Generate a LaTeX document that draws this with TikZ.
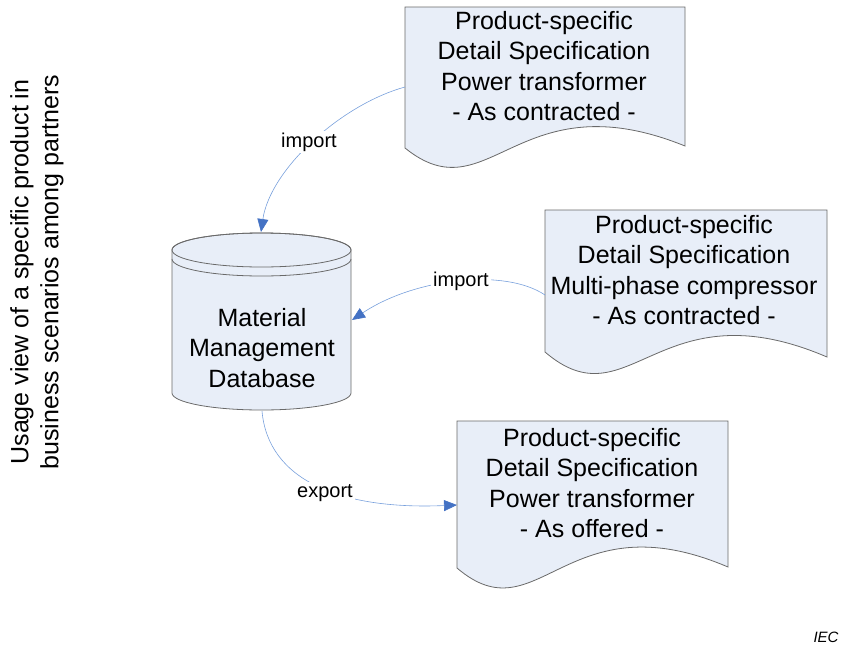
\documentclass[tikz,border=0pt]{standalone}
\usepackage{fontspec}
\setmainfont{Liberation Sans}
\usetikzlibrary{arrows.meta}
\definecolor{docfill}{RGB}{232,238,248}
\definecolor{edgegray}{RGB}{105,105,105}
\definecolor{linkblue}{RGB}{120,160,220}
\definecolor{tipblue}{RGB}{68,114,196}
\newcommand{\docpath}[6]{% L T R yl yr d
  \pgfmathsetmacro{\dw}{#3-#1}
  \pgfmathsetmacro{\ya}{-(#5+#4)/2+#6}
  \pgfmathsetmacro{\yb}{-(#5+#4)/2-#6}
  \pgfmathsetmacro{\xa}{#1+0.4*\dw}
  \pgfmathsetmacro{\xb}{#1+0.3*\dw}
  \filldraw[docshape] (#1,-#2) -- (#3,-#2) -- (#3,-#5)
    .. controls (\xa,\ya) and (\xb,\yb) .. (#1,-#4) -- cycle;
}
\begin{document}
\begin{tikzpicture}[x=1pt,y=1pt,
  docshape/.style={fill=docfill,draw=edgegray,line width=0.8pt},
  cylshape/.style={fill=docfill,draw=edgegray,line width=0.8pt},
  doctext/.style={align=center,font=\fontsize{25}{30.5}\selectfont,inner sep=0pt},
  linklabel/.style={fill=white,inner sep=2pt,font=\fontsize{20}{24}\selectfont},
  link/.style={draw=linkblue,line width=0.6pt,-{Triangle[length=13pt,width=11pt,color=tipblue]}}
]
\useasboundingbox (0,0) rectangle (841,-646);

% documents
\docpath{405}{7}{685}{148}{146}{69}
\docpath{545}{210}{827}{352}{357}{70}
\docpath{457}{421}{728}{568}{567}{70}

\node[doctext] (doc1) at (544,-66) {Product-specific\\Detail Specification\\Power transformer\\- As contracted -};
\node[doctext] (doc2) at (684,-270) {Product-specific\\Detail Specification\\Multi-phase compressor\\- As contracted -};
\node[doctext] (doc3) at (592,-483) {Product-specific\\Detail Specification\\Power transformer\\- As offered -};

% database cylinder
\filldraw[cylshape] (172,-250) -- (172,-393)
  arc[start angle=180,end angle=360,x radius=89.5,y radius=17]
  -- (351,-250)
  arc[start angle=0,end angle=180,x radius=89.5,y radius=17] -- cycle;
\draw[edgegray,line width=0.8pt] (261.5,-250) ellipse[x radius=89.5,y radius=17];
\draw[edgegray,line width=0.8pt] (172,-259) arc[start angle=180,end angle=360,x radius=89.5,y radius=17];
\node[doctext] (db) at (262,-348) {Material\\Management\\Database};

% connector end points
\coordinate (d1out) at (405,-87);
\coordinate (dbtop) at (261,-232);
\coordinate (d2out) at (545,-295);
\coordinate (dbright) at (352,-320);
\coordinate (dbbottom) at (262,-411);
\coordinate (d3in) at (457,-505);

\draw[link] (d1out) .. controls (340,-105) and (270,-170) .. (dbtop);
\draw[link] (d2out) .. controls (505,-268) and (415,-278) .. (dbright);
\draw[link] (dbbottom) .. controls (268,-480) and (340,-510) .. (d3in);

\node[linklabel] (l1) at (309,-142) {import};
\node[linklabel] (l2) at (461,-281) {import};
\node[linklabel] (l3) at (325,-493) {export};

% side title
\node[rotate=90,align=center,font=\fontsize{25}{30}\selectfont,inner sep=0pt] (title) at (37,-272)
  {Usage view of a specific product in\\business scenarios among partners};

\node[font=\fontsize{15}{18}\selectfont\itshape,inner sep=0pt] (iec) at (826,-637) {IEC};
\end{tikzpicture}
\end{document}
